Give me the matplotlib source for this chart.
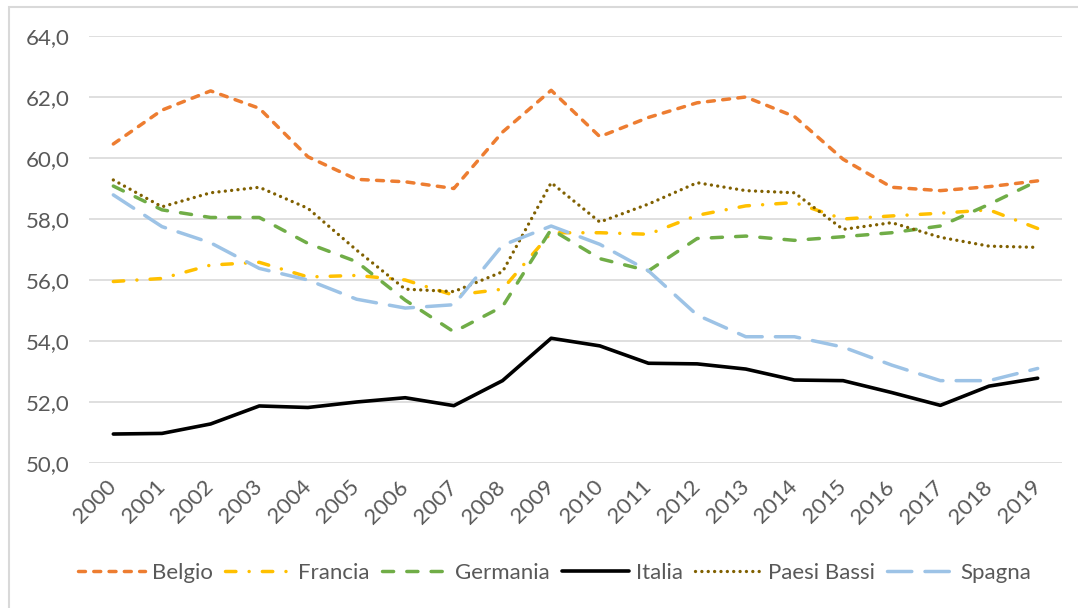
import matplotlib.pyplot as plt
import numpy as np
from matplotlib.patches import Rectangle
from matplotlib.ticker import FuncFormatter, MultipleLocator

plt.rcParams['font.family'] = ['Lato', 'DejaVu Sans']

years = [str(y) for y in range(2000, 2020)]

belgio = [60.46, 61.57, 62.20, 61.63, 60.04, 59.30, 59.22, 59.00, 60.85, 62.22,
          60.70, 61.33, 61.81, 62.00, 61.36, 59.96, 59.04, 58.93, 59.06, 59.25]
francia = [55.95, 56.05, 56.49, 56.58, 56.10, 56.15, 56.00, 55.50, 55.70, 57.55,
           57.55, 57.50, 58.12, 58.43, 58.54, 58.00, 58.10, 58.19, 58.30, 57.69]
germania = [59.08, 58.30, 58.05, 58.05, 57.20, 56.60, 55.34, 54.30, 55.13, 57.66,
            56.70, 56.30, 57.36, 57.44, 57.30, 57.42, 57.55, 57.77, 58.48, 59.25]
italia = [50.95, 50.97, 51.28, 51.87, 51.82, 52.00, 52.14, 51.88, 52.70, 54.09,
          53.84, 53.27, 53.25, 53.08, 52.72, 52.70, 52.31, 51.89, 52.52, 52.78]
paesi_bassi = [59.28, 58.40, 58.86, 59.04, 58.35, 56.98, 55.70, 55.62, 56.27, 59.19,
               57.90, 58.49, 59.19, 58.93, 58.86, 57.66, 57.88, 57.40, 57.11, 57.07]
spagna = [58.79, 57.75, 57.22, 56.38, 56.00, 55.37, 55.08, 55.19, 57.14, 57.77,
          57.17, 56.30, 54.85, 54.14, 54.14, 53.80, 53.21, 52.70, 52.70, 53.10]

# (label, values, color, dash pattern, linewidth)
series = [
    ('Belgio', belgio, '#ED7D31', (0, (2.0, 2.4)), 2.5),
    ('Francia', francia, '#FFC000', (0, (3.0, 3.8, 0.01, 3.8)), 2.5),
    ('Germania', germania, '#70AD47', (0, (3.2, 3.8)), 2.5),
    ('Italia', italia, '#000000', '-', 2.6),
    ('Paesi Bassi', paesi_bassi, '#806000', (0, (0.01, 1.9)), 2.4),
    ('Spagna', spagna, '#9DC3E6', (0, (7.0, 3.8)), 2.5),
]

fig = plt.figure(figsize=(10.78, 6.08), dpi=100)
ax = fig.add_axes([89 / 1078, 1 - 463 / 608, (1062 - 89) / 1078, (463 - 36) / 608])

x = np.arange(len(years))
for label, vals, color, ls, lw in series:
    ax.plot(x, vals, color=color, linestyle=ls, linewidth=lw, label=label,
            dash_capstyle='round', solid_capstyle='round', solid_joinstyle='round')

ax.set_xlim(-0.5, len(years) - 0.5)
ax.set_ylim(50, 64)
ax.yaxis.set_major_locator(MultipleLocator(2))
ax.yaxis.set_major_formatter(FuncFormatter(lambda v, p: f'{v:.1f}'.replace('.', ',')))
ax.grid(axis='y', color='#D9D9D9', linewidth=1.2)
ax.set_axisbelow(True)
for s in ax.spines.values():
    s.set_visible(False)

ax.set_xticks(x)
ax.set_xticklabels(years, rotation=45, ha='right', va='center', rotation_mode='anchor')
ax.tick_params(axis='both', length=0, labelsize=16, labelcolor='#595959')
ax.tick_params(axis='y', pad=14)
ax.tick_params(axis='x', pad=15)

leg = fig.legend(loc='center', bbox_to_anchor=(555 / 1078, 1 - 573 / 608), ncol=6, frameon=False,
                 fontsize=16, handlelength=3.0, handletextpad=0.3, columnspacing=0.55)
for t in leg.get_texts():
    t.set_color('#595959')

# chart area border (cropped on the right and bottom)
fig.add_artist(Rectangle((9 / 1078, -0.1), 1.2, 1.1 - 7 / 608, transform=fig.transFigure,
                         fill=False, edgecolor='#D9D9D9', linewidth=1.5, clip_on=False))

fig.savefig('out.png', dpi=100)
